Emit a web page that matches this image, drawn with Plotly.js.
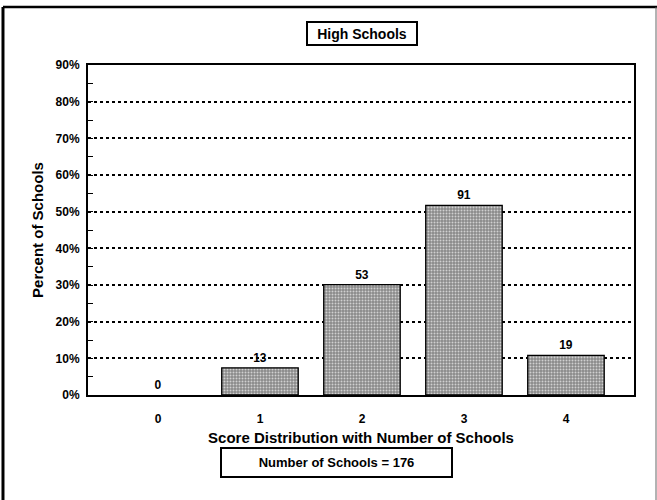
<!DOCTYPE html>
<html><head><meta charset="utf-8">
<script src="https://cdn.plot.ly/plotly-3.0.1.min.js"></script>
<style>html,body{margin:0;padding:0;background:#fff}#chart{width:657px;height:500px}</style>
</head><body><div id="chart"></div>
<script>
const categories = ['0', '1', '2', '3', '4'];
const schoolCounts = [0, 13, 53, 91, 19];
const percentSchools = [0, 7.4, 30.1, 51.7, 10.8];
const totalSchools = 176;
const yTickVals = [0, 10, 20, 30, 40, 50, 60, 70, 80, 90];
const yTickText = yTickVals.map(v => v + '%');

const FONT = 'Liberation Sans, Arial, sans-serif';

const trace = {
  type: 'bar',
  x: categories,
  y: percentSchools,
  text: schoolCounts.map(String),
  textposition: 'outside',
  cliponaxis: false,
  textfont: {family: FONT, size: 12, color: '#000', weight: 'bold'},
  width: 0.75,
  marker: {
    color: '#939393',
    line: {color: '#000', width: percentSchools.map(v => v > 0 ? 1.3 : 0)},
    pattern: {shape: '.', fgcolor: '#d0d0d0', bgcolor: '#8a8a8a', size: 3, solidity: 0.35, fillmode: 'replace'}
  },
  hoverinfo: 'none'
};

const layout = {
  width: 657, height: 500,
  margin: {l: 88, r: 23, t: 65, b: 105},
  paper_bgcolor: '#fff', plot_bgcolor: '#fff',
  showlegend: false,
  font: {family: FONT, color: '#000', size: 12},
  xaxis: {
    type: 'category',
    range: [-0.686, 4.667],
    showline: true, mirror: true, linecolor: '#000', linewidth: 2,
    showgrid: false, zeroline: false,
    ticks: '', ticklabelstandoff: 12,
    tickfont: {family: FONT, size: 12, weight: 'bold'},
    title: {text: 'Score Distribution with Number of Schools', font: {family: FONT, size: 15, weight: 'bold'}, standoff: 7}
  },
  yaxis: {
    range: [0, 90],
    tickmode: 'array',
    tickvals: yTickVals,
    ticktext: yTickText,
    showline: true, mirror: true, linecolor: '#000', linewidth: 2,
    showgrid: true, gridcolor: '#000', gridwidth: 2, griddash: 'dot',
    zeroline: false,
    ticks: 'inside', ticklen: 5, tickcolor: '#000', tickwidth: 1,
    ticklabelstandoff: 4,
    minor: {dtick: 5, tick0: 5, ticks: 'inside', ticklen: 5, tickcolor: '#000', showgrid: false},
    tickfont: {family: FONT, size: 12, weight: 'bold'},
    title: {text: 'Percent of Schools', font: {family: FONT, size: 15, weight: 'bold'}, standoff: 8}
  },
  annotations: [
    {xref: 'paper', yref: 'paper', x: 0.502, y: 1.094, xanchor: 'center', yanchor: 'middle',
     text: 'High Schools', showarrow: false, font: {family: FONT, size: 14, weight: 'bold'},
     width: 104, height: 17,
     bordercolor: '#000', borderwidth: 2, borderpad: 2, bgcolor: '#fff'},
    {xref: 'paper', yref: 'paper', x: 0.455, y: -0.2045, xanchor: 'center', yanchor: 'middle',
     text: 'Number of Schools = ' + totalSchools, showarrow: false,
     font: {family: FONT, size: 13, weight: 'bold'},
     width: 225, height: 23,
     bordercolor: '#000', borderwidth: 2, borderpad: 2, bgcolor: '#fff'}
  ],
  shapes: [
    {type: 'line', xref: 'paper', yref: 'paper', x0: -0.1557, x1: -0.1557, y0: -0.33, y1: 1.1758,
     line: {color: '#000', width: 3}},
    {type: 'line', xref: 'paper', yref: 'paper', x0: -0.1557, x1: 1.06, y0: 1.1758, y1: 1.1758,
     line: {color: '#000', width: 2.5}},
    {type: 'line', xref: 'paper', yref: 'paper', x0: 1.0403, x1: 1.0403, y0: -0.33, y1: 1.1758,
     line: {color: '#666', width: 1}}
  ]
};

Plotly.newPlot('chart', [trace], layout, {displayModeBar: false, staticPlot: true});
</script></body></html>
